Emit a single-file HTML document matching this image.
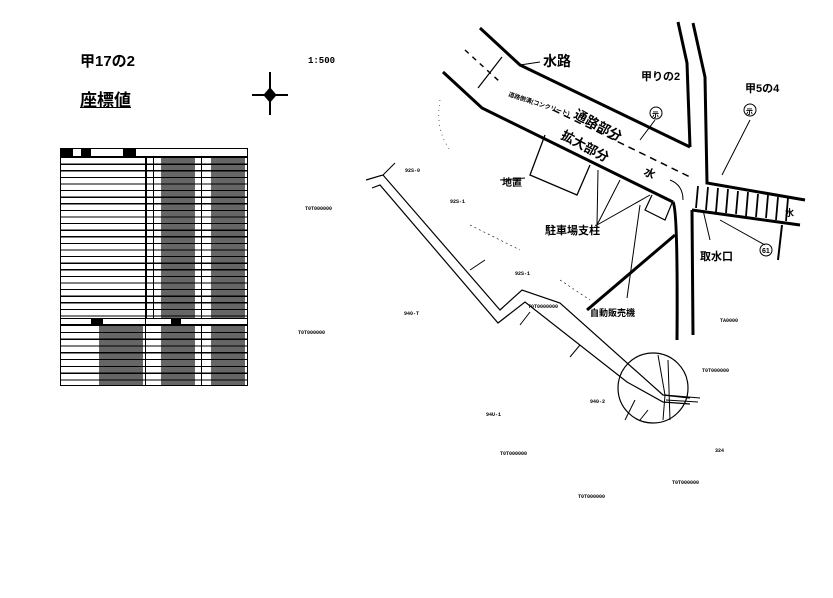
<!DOCTYPE html>
<html><head><meta charset="utf-8"><style>
html,body{margin:0;padding:0;background:#fff;}
body{width:833px;height:598px;position:relative;overflow:hidden;font-family:"Liberation Sans","Noto Sans CJK JP",sans-serif;}
.t{position:absolute;color:#000;white-space:nowrap;}
.tbl{position:absolute;left:60px;width:188px;border:1px solid #000;box-sizing:border-box;}
</style></head><body>
<div class="t" style="left:80px;top:50px;font-size:15px;font-weight:bold;">甲17の2</div>
<div class="t" style="left:80px;top:86px;font-size:17px;font-weight:bold;text-decoration:underline;">座標値</div>
<div class="t" style="left:308px;top:56px;font-size:9px;font-weight:bold;font-family:'Liberation Mono',monospace;">1:500</div>

<div class="tbl" style="top:148px;height:9px;background:linear-gradient(90deg,#000 0,#000 12px,#fff 12px,#fff 20px,#000 20px,#000 30px,#fff 30px,#fff 62px,#000 62px,#000 75px,#fff 75px);"></div>
<div class="tbl" style="top:156px;height:163px;background:
linear-gradient(90deg,transparent 0,transparent 84px,#000 84px,#000 86px,transparent 86px,transparent 92px,#000 92px,#000 93px,transparent 93px,transparent 100px,rgba(0,0,0,.6) 100px,rgba(0,0,0,.6) 134px,transparent 134px,transparent 140px,#000 140px,#000 141px,transparent 141px,transparent 150px,rgba(0,0,0,.6) 150px,rgba(0,0,0,.6) 184px,transparent 184px),
repeating-linear-gradient(180deg,#000 0,#000 1.2px,#fff 1.2px,#fff 6.6px);"></div>
<div class="tbl" style="top:318px;height:7px;background:linear-gradient(90deg,#fff 0,#fff 30px,#000 30px,#000 42px,#fff 42px,#fff 84px,#000 84px,#000 85px,#fff 85px,#fff 110px,#000 110px,#000 120px,#fff 120px);"></div>
<div class="tbl" style="top:324px;height:62px;background:
linear-gradient(90deg,transparent 0,transparent 38px,rgba(0,0,0,.6) 38px,rgba(0,0,0,.6) 82px,transparent 82px,transparent 84px,#000 84px,#000 85px,transparent 85px,transparent 100px,rgba(0,0,0,.6) 100px,rgba(0,0,0,.6) 134px,transparent 134px,transparent 140px,#000 140px,#000 141px,transparent 141px,transparent 150px,rgba(0,0,0,.6) 150px,rgba(0,0,0,.6) 184px,transparent 184px),
repeating-linear-gradient(180deg,#000 0,#000 1.2px,#fff 1.2px,#fff 6.8px);"></div>

<svg width="833" height="598" style="position:absolute;left:0;top:0;" xmlns="http://www.w3.org/2000/svg">
<g stroke="#000" fill="none">
<path d="M270 72 V115 M252 95 H288" stroke-width="2"/>
<path d="M264 95 L270 88 L276 95 L270 102Z" fill="#000"/>
<path d="M366 180 L383 175 L500 310 L522 290 L560 303 L663 395 L690 398" stroke-width="1.2"/>
<path d="M372 188 L380 185 L498 323 L525 302 L627 382 L663 402 L690 404" stroke-width="1.2"/>
<path d="M383 175 L395 163 M520 325 L530 312 M625 420 L635 400 M470 270 L485 260 M580 345 L570 357" stroke-width="1"/>
<circle cx="653" cy="388" r="35" stroke-width="1.2"/>
<path d="M658 355 L665 395 L663 420 M668 360 L670 420 M665 395 L700 398 M666 400 L698 402 M648 410 L640 420" stroke-width="1"/>
<path d="M480 28 L520 65 L690 147" stroke-width="3"/>
<path d="M443 72 L482 108 L673 202" stroke-width="3"/>
<path d="M465 50 L500 82" stroke-width="1.5" stroke-dasharray="5 5"/>
<path d="M553 110 L690 177" stroke-width="1.5" stroke-dasharray="7 5"/>
<path d="M478 88 L502 57" stroke-width="1.2"/>
<path d="M678 22 L687 63 L690 147" stroke-width="3"/>
<path d="M693 23 L705 77 L707 183 L805 200" stroke-width="3"/>
<path d="M692 210 L800 225" stroke-width="3"/>
<path d="M673 202 Q678 210 677 340" stroke-width="3"/>
<path d="M692 210 L693 335" stroke-width="3"/>
<path d="M698 186 L696 208 M708 187 L706 210 M718 188 L716 212 M728 189 L726 213 M738 191 L736 214 M748 192 L746 216 M758 194 L756 217 M768 195 L766 218 M778 197 L776 220 M788 198 L786 221" stroke-width="1.8"/>
<path d="M782 225 L778 260" stroke-width="2"/>
<path d="M675 235 L587 310" stroke-width="3"/>
<path d="M545 135 L530 175 L577 195 L590 165" stroke-width="1.3"/>
<path d="M652 195 L645 210 L665 220 L672 203" stroke-width="1.2"/>
<path d="M520 65 L540 62 M500 180 L525 178 M597 225 L598 170 M597 225 L620 180 M597 225 L650 195 M640 205 L627 298 M703 210 L710 240 M765 245 L720 220 M655 120 L640 140 M750 120 L722 175 M670 180 Q683 185 683 200" stroke-width="1"/>
<circle cx="656" cy="113" r="6" stroke-width="1"/>
<circle cx="750" cy="110" r="6" stroke-width="1"/>
<circle cx="766" cy="250" r="6" stroke-width="1"/>
<path d="M470 225 L520 250 M560 280 L590 300" stroke-width="0.6" stroke-dasharray="2 3"/>
<path d="M440 100 Q435 130 450 150" stroke-width="0.6" stroke-dasharray="1 4"/>
</g>
<g font-family="Liberation Sans,Noto Sans CJK JP,sans-serif" font-weight="bold" fill="#000">
<text x="543" y="66" font-size="14">水路</text>
<text x="641" y="80" font-size="11">甲りの2</text>
<text x="745" y="92" font-size="11">甲5の4</text>
<text x="652" y="117" font-size="7">示</text>
<text x="746" y="114" font-size="7">示</text>
<text x="762" y="253" font-size="7">61</text>
<text x="508" y="96" font-size="6" transform="rotate(18 508 96)">道路側溝(コンクリート)</text>
<text x="573" y="117" font-size="13" transform="rotate(28 573 117)">通路部分</text>
<text x="560" y="138" font-size="13" transform="rotate(28 560 138)">拡大部分</text>
<text x="643" y="174" font-size="11" transform="rotate(28 643 174)">水</text>
<text x="502" y="186" font-size="10">地置</text>
<text x="545" y="234" font-size="11">駐車場支柱</text>
<text x="700" y="260" font-size="11">取水口</text>
<text x="785" y="216" font-size="9">水</text>
<text x="590" y="316" font-size="9">自動販売機</text>
</g>
<g font-family="Liberation Mono,monospace" font-size="5" font-weight="bold" fill="#000">
<text x="405" y="172">92S-0</text>
<text x="450" y="203">92S-1</text>
<text x="515" y="275">92S-1</text>
<text x="404" y="315">940-T</text>
<text x="590" y="403">940-2</text>
<text x="486" y="416">94U-1</text>
<text x="305" y="210">T0T000000</text>
<text x="298" y="334">T0T000000</text>
<text x="528" y="308">T0T0000000</text>
<text x="720" y="322">TA0000</text>
<text x="702" y="372">T0T000000</text>
<text x="500" y="455">T0T000000</text>
<text x="578" y="498">T0T000000</text>
<text x="672" y="484">T0T000000</text>
<text x="715" y="452">324</text>
</g>
</svg>
</body></html>
